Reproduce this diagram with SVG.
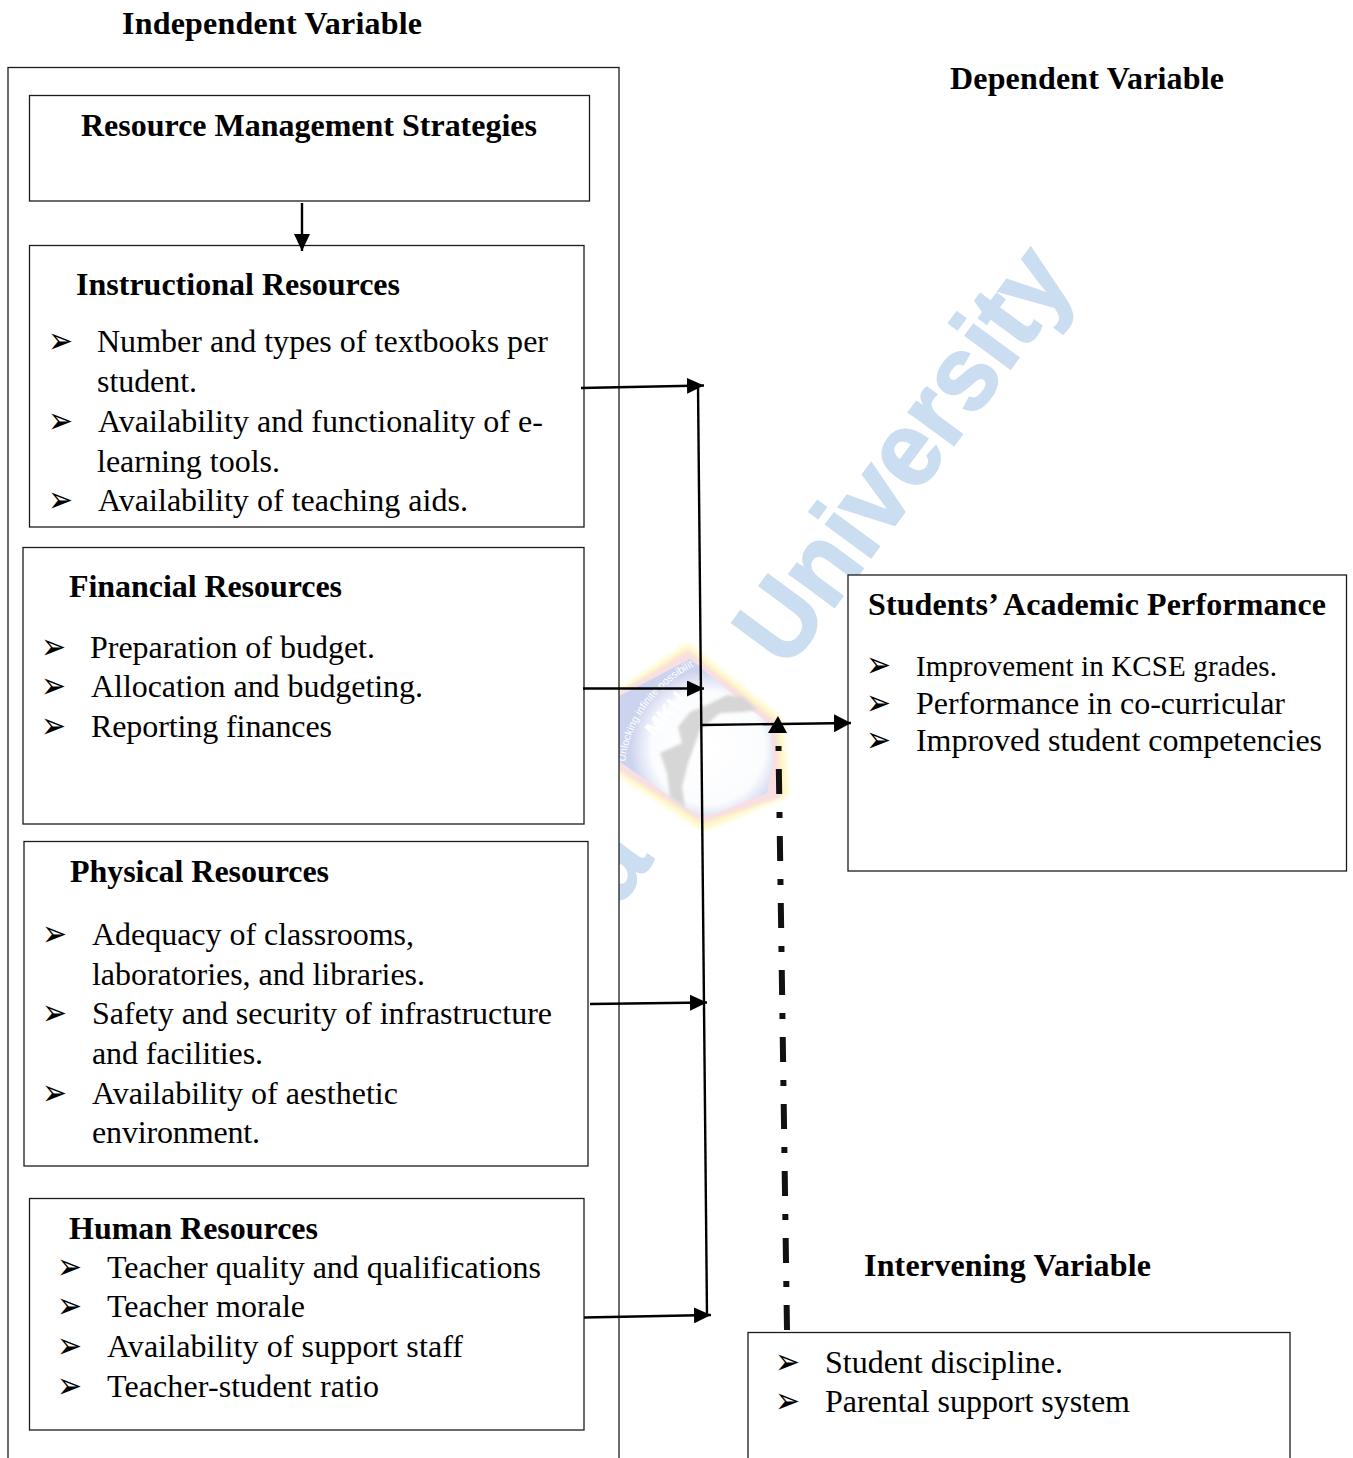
<svg xmlns="http://www.w3.org/2000/svg" width="1353" height="1458" viewBox="0 0 1353 1458">
<style>
text{font-family:"Liberation Serif","Times New Roman",serif;fill:#000}
.b{font-size:32px}
.h{font-size:32px;font-weight:bold}
.s{font-family:"DejaVu Sans",sans-serif;font-size:26px}
.w{font-family:"Liberation Sans",Arial,sans-serif;font-weight:bold;font-size:106px;fill:#cbdef1;stroke:#cbdef1;stroke-width:2}
.box{fill:#fff;stroke:#1c1c1c;stroke-width:1.3}
.c{fill:none;stroke:#000;stroke-width:2.4}
</style>
<defs>
<marker id="ah" markerUnits="userSpaceOnUse" markerWidth="18" markerHeight="16" refX="17" refY="8" orient="auto"><path d="M0 0L17 8L0 16Z" fill="#000"/></marker>
<marker id="ahb" markerUnits="userSpaceOnUse" markerWidth="18" markerHeight="18" refX="17" refY="9" orient="auto"><path d="M0 0L17 9L0 18Z" fill="#000"/></marker>
<filter id="blur3" x="-20%" y="-20%" width="140%" height="140%"><feGaussianBlur stdDeviation="3"/></filter>
<filter id="blur1" x="-20%" y="-20%" width="140%" height="140%"><feGaussianBlur stdDeviation="1.500"/></filter>
<radialGradient id="globe" gradientUnits="userSpaceOnUse" cx="708" cy="748" r="78"><stop offset="0" stop-color="#fff"/><stop offset="0.72" stop-color="#fbfcfe"/><stop offset="1" stop-color="#ccd3ee"/></radialGradient>
<path id="motto" d="M625 762C630 725 650 690 694 666"/>
</defs>
<rect width="1353" height="1458" fill="#fff"/>
<g id="watermark">
<text class="w" transform="translate(787 671) rotate(-53.500)" textLength="486" lengthAdjust="spacingAndGlyphs">University</text>
<text class="w" text-anchor="end" transform="translate(654 860) rotate(-53.500)">a</text>
<path d="M688 644L782 720L788 795L704 830L612 770L612 695Z" fill="#fdf6b8" filter="url(#blur3)"/>
<path d="M688 650L777 722L781 797L703 823L612 766L612 697Z" fill="#f9dfe1" filter="url(#blur1)"/>
<path d="M690 659L770 725L773 760L767 793L712 815L697 815L620 762L612 700Z" fill="url(#globe)"/>
<path d="M757 710L743 697L727 695L707 705L690 712L678 727L682 743L660 753L667 773L670 797L685 807L682 787L688 763L700 730L720 713L743 712Z" fill="#d6d6d6" filter="url(#blur1)"/>
<text transform="translate(655 738) rotate(-50)" style="font-family:'Liberation Sans',sans-serif;font-weight:bold;font-size:22px;fill:#fff">MKU</text>
<text style="font-family:'Liberation Sans',sans-serif;font-size:10.500px;fill:#fff"><textPath href="#motto">Unlocking infinite possibilities</textPath></text>
</g>
<g id="independent-title"><text class="h" x="122" y="34" textLength="300">Independent Variable</text></g>
<g id="dependent-title"><text class="h" x="950" y="89" textLength="274">Dependent Variable</text></g>
<g id="independent-frame"><rect class="box" x="8" y="67.500" width="611" height="1402"/></g>
<g id="resource-management"><rect class="box" x="29.500" y="95.500" width="560" height="105.500"/>
<text class="h" x="81" y="136" textLength="456">Resource Management Strategies</text></g>
<g id="instructional"><rect class="box" x="29.500" y="245.500" width="554.500" height="281.500"/>
<text class="h" x="76" y="295" textLength="324">Instructional Resources</text>
<text class="s" transform="translate(48 353) scale(1.15 1.4)">➢</text><text class="b" x="97" y="352" textLength="451">Number and types of textbooks per</text>
<text class="b" x="97" y="392" textLength="100">student.</text>
<text class="s" transform="translate(48 433) scale(1.15 1.4)">➢</text><text class="b" x="98" y="432" textLength="445">Availability and functionality of e-</text>
<text class="b" x="97" y="472" textLength="183">learning tools.</text>
<text class="s" transform="translate(48 512) scale(1.15 1.4)">➢</text><text class="b" x="98" y="511" textLength="370">Availability of teaching aids.</text></g>
<g id="financial"><rect class="box" x="23" y="547.500" width="561" height="276.500"/>
<text class="h" x="69" y="597" textLength="273">Financial Resources</text>
<text class="s" transform="translate(41 659) scale(1.15 1.4)">➢</text><text class="b" x="90" y="658" textLength="285">Preparation of budget.</text>
<text class="s" transform="translate(41 698) scale(1.15 1.4)">➢</text><text class="b" x="91" y="697" textLength="332">Allocation and budgeting.</text>
<text class="s" transform="translate(41 738) scale(1.15 1.4)">➢</text><text class="b" x="91" y="737" textLength="241">Reporting finances</text></g>
<g id="physical"><rect class="box" x="24" y="841.500" width="564" height="324.500"/>
<text class="h" x="70" y="882" textLength="259">Physical Resources</text>
<text class="s" transform="translate(42 946) scale(1.15 1.4)">➢</text><text class="b" x="92" y="945" textLength="322">Adequacy of classrooms,</text>
<text class="b" x="92" y="985" textLength="333">laboratories, and libraries.</text>
<text class="s" transform="translate(42 1025) scale(1.15 1.4)">➢</text><text class="b" x="92" y="1024" textLength="460">Safety and security of infrastructure</text>
<text class="b" x="92" y="1064" textLength="171">and facilities.</text>
<text class="s" transform="translate(42 1105) scale(1.15 1.4)">➢</text><text class="b" x="92" y="1104" textLength="306">Availability of aesthetic</text>
<text class="b" x="92" y="1143" textLength="168">environment.</text></g>
<g id="human"><rect class="box" x="29.500" y="1198.500" width="554.500" height="231.500"/>
<text class="h" x="69" y="1239" textLength="249">Human Resources</text>
<text class="s" transform="translate(57 1279) scale(1.15 1.4)">➢</text><text class="b" x="107" y="1278" textLength="434">Teacher quality and qualifications</text>
<text class="s" transform="translate(57 1318) scale(1.15 1.4)">➢</text><text class="b" x="107" y="1317" textLength="198">Teacher morale</text>
<text class="s" transform="translate(57 1358) scale(1.15 1.4)">➢</text><text class="b" x="107" y="1357" textLength="356">Availability of support staff</text>
<text class="s" transform="translate(57 1398) scale(1.15 1.4)">➢</text><text class="b" x="107" y="1397" textLength="272">Teacher-student ratio</text></g>
<g id="performance"><rect class="box" x="848" y="575" width="498.500" height="296"/>
<text class="h" x="868" y="615" textLength="458">Students’ Academic Performance</text>
<text class="s" transform="translate(866 677) scale(1.15 1.4)">➢</text><text class="b" style="font-size:29px" x="916" y="676" textLength="361">Improvement in KCSE grades.</text>
<text class="s" transform="translate(866 715) scale(1.15 1.4)">➢</text><text class="b" x="916" y="714" textLength="369">Performance in co-curricular</text>
<text class="s" transform="translate(866 752) scale(1.15 1.4)">➢</text><text class="b" x="916" y="751" textLength="406">Improved student competencies</text></g>
<g id="intervening-title"><text class="h" x="864" y="1276" textLength="287">Intervening Variable</text></g>
<g id="intervening"><rect class="box" x="748" y="1332.500" width="542" height="140"/>
<text class="s" transform="translate(775 1374) scale(1.15 1.4)">➢</text><text class="b" x="825" y="1373" textLength="238">Student discipline.</text>
<text class="s" transform="translate(775 1413) scale(1.15 1.4)">➢</text><text class="b" x="825" y="1412" textLength="305">Parental support system</text></g>
<g id="connectors">
<line class="c" x1="302" y1="203" x2="302" y2="251" marker-end="url(#ah)"/>
<line class="c" x1="698" y1="385" x2="707" y2="1316"/>
<line class="c" x1="581" y1="388" x2="704" y2="385.500" marker-end="url(#ah)"/>
<line class="c" x1="583" y1="688.500" x2="704" y2="688.500" marker-end="url(#ah)"/>
<line class="c" x1="590" y1="1004" x2="707" y2="1002.500" marker-end="url(#ah)"/>
<line class="c" x1="584" y1="1317.500" x2="711" y2="1315" marker-end="url(#ah)"/>
<line class="c" x1="702" y1="725" x2="851" y2="723" marker-end="url(#ahb)"/>
<line x1="787" y1="1330" x2="778.500" y2="746" fill="none" stroke="#111" stroke-width="6" stroke-dasharray="25 18 6 18"/>
<path d="M778 716L787 733H768Z" fill="#000"/>
</g>
</svg>
